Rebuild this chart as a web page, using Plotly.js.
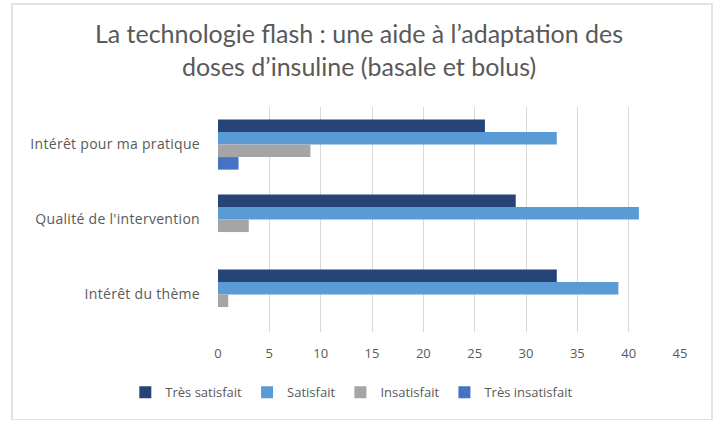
<!DOCTYPE html>
<html>
<head>
<meta charset="utf-8">
<script src="https://cdn.plot.ly/plotly-3.0.1.min.js"></script>
<style>
  html, body { margin: 0; padding: 0; background: #ffffff; }
  #wrap { position: relative; width: 718px; height: 421px; }
  #chart { position: absolute; left: 0; top: 0; width: 718px; height: 421px; }
  #frame { position: absolute; left: 11px; top: 3px; width: 698px; height: 414px; border: 2px solid #e3e3e3; border-bottom-width: 1px; pointer-events: none; }
  .ytick text { letter-spacing: 0.3px; }
</style>
</head>
<body>
<div id="wrap">
  <div id="chart"></div>
  <div id="frame"></div>
</div>
<script>
const categories = ["Intérêt pour ma pratique", "Qualité de l'intervention", "Intérêt du thème"];
const seriesNames = ["Très satisfait", "Satisfait", "Insatisfait", "Très insatisfait"];
const tresSatisfait = [26, 29, 33];
const satisfait = [33, 41, 39];
const insatisfait = [9, 3, 1];
const tresInsatisfait = [2, 0, 0];
const xTicks = [0, 5, 10, 15, 20, 25, 30, 35, 40, 45];
const colors = ["#264478", "#5B9BD5", "#A5A5A5", "#4472C4"];

const values = [tresSatisfait, satisfait, insatisfait, tresInsatisfait];
const traces = values.map((v, i) => ({
  type: "bar",
  orientation: "h",
  name: seriesNames[i],
  y: categories,
  x: v,
  marker: { color: colors[i], line: { width: 0 } },
  hoverinfo: "x+name"
}));

const titleFont = "Lato, 'Open Sans', sans-serif";
const font = "'Open Sans', Lato, sans-serif";
const layout = {
  width: 718,
  height: 421,
  paper_bgcolor: "#ffffff",
  plot_bgcolor: "#ffffff",
  margin: { l: 218, r: 38, t: 107, b: 89 },
  barmode: "group",
  bargap: 0.33,
  bargroupgap: 0,
  title: {
    text: "La technologie flash : une aide à l’adaptation des<br>doses d’insuline (basale et bolus)",
    font: { family: titleFont, size: 25, color: "#595959" },
    x: 0.5,
    xref: "container",
    xanchor: "center",
    y: 1 - 43 / 421,
    yref: "container",
    yanchor: "middle"
  },
  xaxis: {
    range: [0, 45],
    tickvals: xTicks,
    ticktext: xTicks.map(String),
    showgrid: true,
    gridcolor: "#d9d9d9",
    gridwidth: 1,
    zeroline: false,
    showline: false,
    ticks: "",
    ticklabelstandoff: 12,
    tickfont: { family: font, size: 13, color: "#595959" },
    fixedrange: true
  },
  yaxis: {
    autorange: "reversed",
    showgrid: false,
    zeroline: false,
    showline: false,
    ticks: "",
    ticklabelstandoff: 17,
    tickfont: { family: font, size: 14, color: "#595959" },
    fixedrange: true
  },
  showlegend: true,
  legend: {
    orientation: "h",
    xref: "container",
    yref: "container",
    x: 0.49,
    xanchor: "center",
    y: 0.068,
    yanchor: "middle",
    font: { family: font, size: 13, color: "#595959" },
    itemwidth: 30,
    traceorder: "normal",
    bgcolor: "rgba(0,0,0,0)"
  }
};

Plotly.newPlot("chart", traces, layout, { displayModeBar: false, staticPlot: true });
</script>
</body>
</html>
